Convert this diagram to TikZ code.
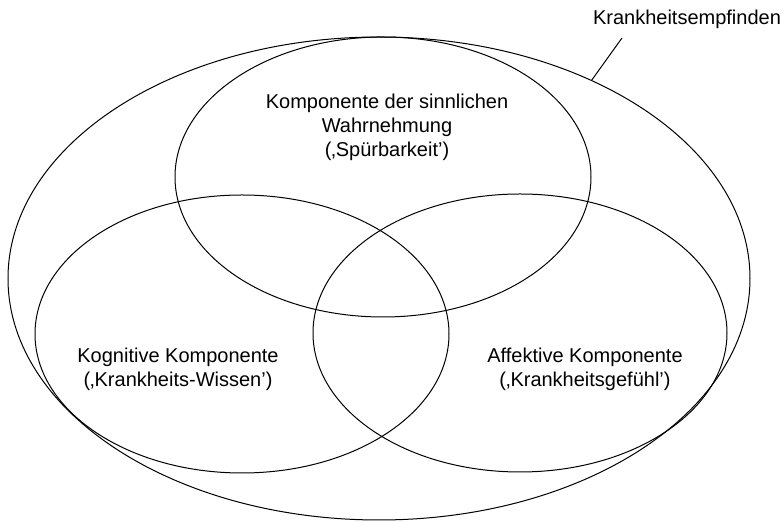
\documentclass[tikz,border=0pt]{standalone}
\usepackage{fontspec}
\setmainfont{Liberation Sans}
\usepackage{tikz}
\usetikzlibrary{shapes.geometric}

\begin{document}
\begin{tikzpicture}[
          x=0.5pt, y=-0.5pt,
          ring/.style={ellipse, draw, line width=0.5pt, inner sep=0pt},
          lbl/.style={align=center, inner sep=0pt,
                      font=\fontsize{10}{12}\selectfont}
        ]
        \useasboundingbox (0,0) rectangle (784,522);
        \node[ring, minimum width=371pt, minimum height=241.5pt] (outer) at (379,278.5) {};
        \node[ring, minimum width=208pt, minimum height=140pt] (sense) at (383,177) {};
        \node[ring, minimum width=207pt, minimum height=139pt] (cogn) at (242,334) {};
        \node[ring, minimum width=207pt, minimum height=139pt] (affe) at (520,333) {};
        \node[lbl] (senseTxt) at (387,127) {Komponente der sinnlichen\\Wahrnehmung\\(‚Spürbarkeit’)};
        \node[lbl] (cognTxt) at (178,369) {Kognitive Komponente\\(‚Krankheits-Wissen’)};
        \node[lbl] (affeTxt) at (585,369) {Affektive Komponente\\(‚Krankheitsgefühl’)};
        \node[lbl] (empf) at (687,19) {Krankheitsempfinden};
        \coordinate (empfTick) at (622,38);
        \draw[line width=0.5pt] (empfTick) -- (outer.43);
      \end{tikzpicture}
\end{document}
